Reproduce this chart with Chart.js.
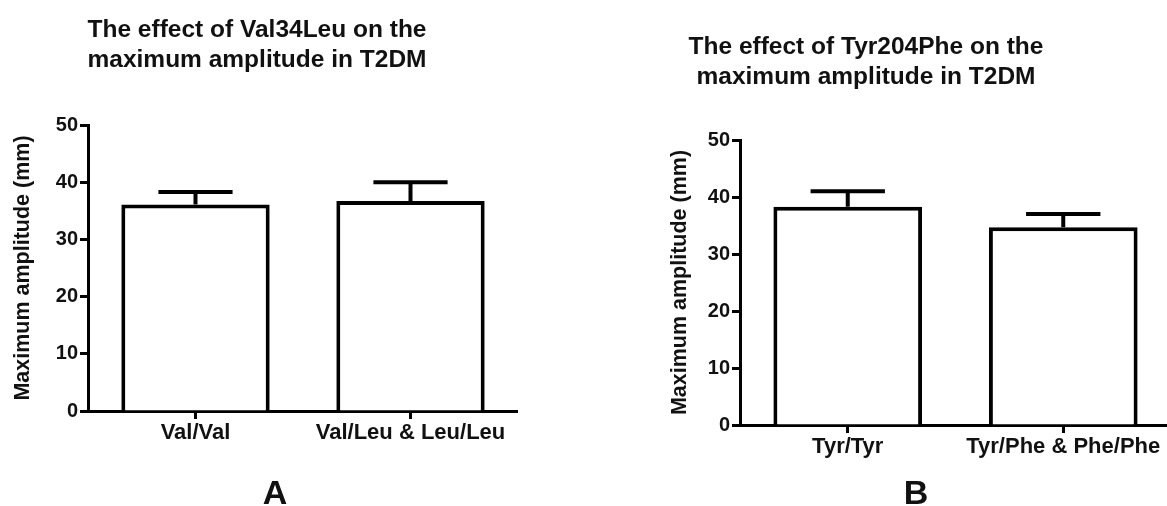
<!DOCTYPE html>
<html>
<head>
<meta charset="utf-8">
<title>Maximum amplitude in T2DM</title>
<script src="https://cdn.jsdelivr.net/npm/chart.js@4"></script>
<style>
  html, body {
    margin: 0;
    padding: 0;
    background: #fff;
    overflow: hidden;
  }
  #stage {
    position: relative;
    width: 1167px;
    height: 506px;
    overflow: hidden;
  }
  canvas {
    position: absolute;
    top: 0;
  }
  .panel-letter {
    position: absolute;
    font-family: 'Liberation Sans', Arial, sans-serif;
    font-weight: bold;
    font-size: 34px;
    line-height: 1;
    color: #111;
    transform: translateX(-50%);
  }
</style>
</head>
<body>
<div id="stage">
  <canvas id="chartVal" width="522" height="506" style="left:-4px"></canvas>
  <canvas id="chartTyr" width="610" height="506" style="left:561px"></canvas>
  <div class="panel-letter" style="left:275px; top:475px">A</div>
  <div class="panel-letter" style="left:916px; top:475px">B</div>
</div>

<script>
// Genotype groups and mean maximum amplitude (mm) with SEM
const valLabels = ['Val/Val', 'Val/Leu & Leu/Leu'];
const valMeans = [36.1, 36.7];
const valErrors = [2.2, 3.3];

const tyrLabels = ['Tyr/Tyr', 'Tyr/Phe & Phe/Phe'];
const tyrMeans = [38.3, 34.7];
const tyrErrors = [2.7, 2.3];

const yTickValues = [0, 10, 20, 30, 40, 50];

const FONT = "'Liberation Sans', Arial, sans-serif";
const INK = '#111';

/**
 * Draws an upward error bar (stem + cap) on every bar of the first dataset.
 * The cap is half as wide as the bar, as in Prism column graphs.
 */
const errorBarPlugin = {
    id: 'errorBars',
    afterDatasetsDraw(chart, args, opts) {
        const meta = chart.getDatasetMeta(0);
        const yScale = chart.scales.y;
        const errors = opts.errors || [];
        const ctx = chart.ctx;

        ctx.save();
        ctx.strokeStyle = '#000';
        ctx.lineWidth = 4;
        ctx.lineCap = 'butt';
        meta.data.forEach((bar, i) => {
            const value = chart.data.datasets[0].data[i];
            const err = errors[i];
            if (err === undefined) return;
            const top = yScale.getPixelForValue(value + err);
            const base = bar.y;
            const half = bar.width / 4;
            ctx.beginPath();
            ctx.moveTo(bar.x, base);
            ctx.lineTo(bar.x, top);
            ctx.moveTo(bar.x - half, top);
            ctx.lineTo(bar.x + half, top);
            ctx.stroke();
        });
        ctx.restore();
    }
};

/**
 * Builds one column-graph panel.
 * @param {string} canvasId - target canvas
 * @param {Object} cfg - labels, means, errors, title lines and layout numbers
 */
function createAmplitudeChart(canvasId, cfg) {
    const canvas = document.getElementById(canvasId);
    if (!canvas) {
        console.error('Canvas element not found:', canvasId);
        return null;
    }

    return new Chart(canvas.getContext('2d'), {
        type: 'bar',
        data: {
            labels: cfg.labels,
            datasets: [{
                label: 'Maximum amplitude (mm)',
                data: cfg.means,
                backgroundColor: '#fff',
                borderColor: '#000',
                borderWidth: 4,
                categoryPercentage: 1.0,
                barPercentage: 0.69
            }]
        },
        options: {
            responsive: false,
            animation: false,
            layout: {
                padding: 0
            },
            plugins: {
                legend: { display: false },
                tooltip: { enabled: false },
                title: {
                    display: true,
                    text: cfg.title,
                    color: INK,
                    font: { family: FONT, size: 24.5, weight: 'bold', lineHeight: 30 / 24.5 },
                    padding: { top: cfg.titleTop, bottom: cfg.titleBottom }
                },
                errorBars: {
                    errors: cfg.errors
                }
            },
            scales: {
                x: {
                    offset: true,
                    grid: {
                        display: true,
                        offset: false,
                        drawOnChartArea: false,
                        drawTicks: true,
                        tickLength: 8,
                        tickWidth: 3,
                        tickColor: '#000'
                    },
                    border: { display: true, color: '#000', width: 3 },
                    ticks: {
                        color: INK,
                        padding: 1,
                        maxRotation: 0,
                        font: { family: FONT, size: 22, weight: 'bold' }
                    },
                    afterFit(scale) {
                        scale.height = cfg.xAxisHeight;
                    }
                },
                y: {
                    min: 0,
                    max: 50,
                    afterBuildTicks(scale) {
                        scale.ticks = yTickValues.map(v => ({ value: v }));
                    },
                    grid: {
                        display: true,
                        drawOnChartArea: false,
                        drawTicks: true,
                        tickLength: 8,
                        tickWidth: 3,
                        tickColor: '#000'
                    },
                    border: { display: true, color: '#000', width: 3 },
                    ticks: {
                        color: INK,
                        padding: 2,
                        font: { family: FONT, size: 20, weight: 'bold' }
                    },
                    title: {
                        display: true,
                        text: 'Maximum amplitude (mm)',
                        color: INK,
                        font: { family: FONT, size: 21.5, weight: 'bold' },
                        padding: { top: cfg.yTitleOffset, bottom: 0 }
                    },
                    afterFit(scale) {
                        scale.width = cfg.yAxisWidth;
                    }
                }
            }
        },
        plugins: [errorBarPlugin]
    });
}

// Panel A: Val34Leu
createAmplitudeChart('chartVal', {
    labels: valLabels,
    means: valMeans,
    errors: valErrors,
    title: ['The effect of Val34Leu on the', 'maximum amplitude in T2DM'],
    titleTop: 15,
    titleBottom: 50,
    yAxisWidth: 92,
    yTitleOffset: 14,
    xAxisHeight: 95
});

// Panel B: Tyr204Phe
createAmplitudeChart('chartTyr', {
    labels: tyrLabels,
    means: tyrMeans,
    errors: tyrErrors,
    title: ['The effect of Tyr204Phe on the', 'maximum amplitude in T2DM'],
    titleTop: 32,
    titleBottom: 48,
    yAxisWidth: 179,
    yTitleOffset: 106,
    xAxisHeight: 81
});
</script>
</body>
</html>
